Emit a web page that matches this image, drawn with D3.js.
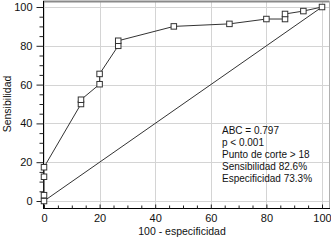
<!DOCTYPE html>
<html>
<head>
<meta charset="utf-8">
<script src="https://cdn.jsdelivr.net/npm/d3@7"></script>
<style>
  body { margin: 0; background: #fff; }
  svg { display: block; font-family: "Liberation Sans", Arial, sans-serif; }
</style>
</head>
<body>
<div id="chart"></div>
<script>
// ROC curve points: [100 - especificidad, sensibilidad]
const fpr = [0, 0, 0, 0, 13.3, 13.3, 20, 20, 26.7, 26.7, 46.7, 66.7, 80, 86.7, 86.7, 93.3, 100];
const tpr = [0, 3, 12.5, 17.4, 50, 52.2, 60.2, 65.5, 80, 82.6, 90, 91.3, 93.8, 93.8, 96.4, 97.9, 100];
const ticks = [0, 20, 40, 60, 80, 100];
const stats = [
  "ABC = 0.797",
  "p < 0.001",
  "Punto de corte > 18",
  "Sensibilidad 82.6%",
  "Especificidad 73.3%",
];

const width = 331;
const height = 240;
const margin = { top: 7, right: 9, bottom: 39, left: 44 };

const x = d3.scaleLinear().domain([0, 100]).range([margin.left, width - margin.right]);
const y = d3.scaleLinear().domain([0, 100]).range([height - margin.bottom, margin.top]);

const svg = d3.select("#chart").append("svg")
  .attr("width", width)
  .attr("height", height);

const axisY = 208; // offset bottom axis
const axisX = 43;

// grid
const grid = svg.append("g").attr("stroke", "#d4d4d4").attr("stroke-width", 1);
grid.selectAll(".gx").data(ticks).join("line")
  .attr("x1", (d) => Math.round(x(d)) + 0.5).attr("x2", (d) => Math.round(x(d)) + 0.5)
  .attr("y1", 2).attr("y2", axisY);
grid.selectAll(".gy").data(ticks).join("line")
  .attr("y1", (d) => Math.round(y(d)) + 0.5).attr("y2", (d) => Math.round(y(d)) + 0.5)
  .attr("x1", axisX).attr("x2", width - 2);

// frame top / right
svg.append("line").attr("x1", axisX).attr("x2", width - 1.5).attr("y1", 1.5).attr("y2", 1.5)
  .attr("stroke", "#8a8a8a").attr("stroke-width", 2);
svg.append("line").attr("x1", width - 1.5).attr("x2", width - 1.5).attr("y1", 1).attr("y2", axisY)
  .attr("stroke", "#b0b0b0").attr("stroke-width", 1);

// left axis
const gY = svg.append("g").attr("transform", `translate(${axisX + 0.5},0)`);
gY.call(d3.axisLeft(y).tickValues(ticks).tickSize(7).tickSizeOuter(0));
gY.append("g").call(d3.axisLeft(y).tickValues(d3.range(5, 100, 5).filter((d) => d % 20)).tickSize(4).tickFormat(""))
  .select(".domain").remove();
gY.select(".domain").attr("d", `M0,1V${axisY}`);
gY.selectAll("text").attr("font-size", 11).attr("fill", "#111").attr("x", -11).attr("font-family", null);
gY.selectAll("line").attr("stroke", "#222");

// bottom axis
const gX = svg.append("g").attr("transform", `translate(0,${axisY + 0.5})`);
gX.call(d3.axisTop(x).tickValues(ticks).tickSize(4).tickSizeOuter(0));
gX.append("g").call(d3.axisTop(x).tickValues(d3.range(5, 100, 5).filter((d) => d % 20)).tickSize(3).tickFormat(""))
  .select(".domain").remove();
gX.select(".domain").attr("d", `M${axisX},0H${width - 1}`);
gX.selectAll("text").attr("font-size", 11).attr("fill", "#111").attr("y", 6).attr("dy", "0.71em").attr("font-family", null);
gX.selectAll("line").attr("stroke", "#222");

// diagonal
svg.append("line")
  .attr("x1", x(0)).attr("y1", y(0)).attr("x2", x(100)).attr("y2", y(100))
  .attr("stroke", "#333").attr("stroke-width", 1);

// ROC curve
const pts = fpr.map((d, i) => [d, tpr[i]]);
svg.append("path")
  .datum(pts)
  .attr("fill", "none")
  .attr("stroke", "#333")
  .attr("stroke-width", 1)
  .attr("d", d3.line().x((d) => x(d[0])).y((d) => y(d[1])));

svg.append("g").selectAll("rect").data(pts).join("rect")
  .attr("x", (d) => x(d[0]) - 2.75)
  .attr("y", (d) => y(d[1]) - 2.75)
  .attr("width", 5.5)
  .attr("height", 5.5)
  .attr("fill", "#fff")
  .attr("stroke", "#333")
  .attr("stroke-width", 1);

// stats text
svg.append("g").selectAll("text").data(stats).join("text")
  .attr("x", 222)
  .attr("y", (d, i) => 134 + i * 12)
  .attr("font-size", 10)
  .attr("fill", "#111")
  .text((d) => d);

// axis titles
svg.append("text")
  .attr("x", 182).attr("y", 235)
  .attr("text-anchor", "middle")
  .attr("font-size", 10.5)
  .attr("fill", "#111")
  .text("100 - especificidad");
svg.append("text")
  .attr("transform", `translate(11,${104}) rotate(-90)`)
  .attr("text-anchor", "middle")
  .attr("font-size", 10.5)
  .attr("fill", "#111")
  .text("Sensibilidad");
</script>
</body>
</html>
